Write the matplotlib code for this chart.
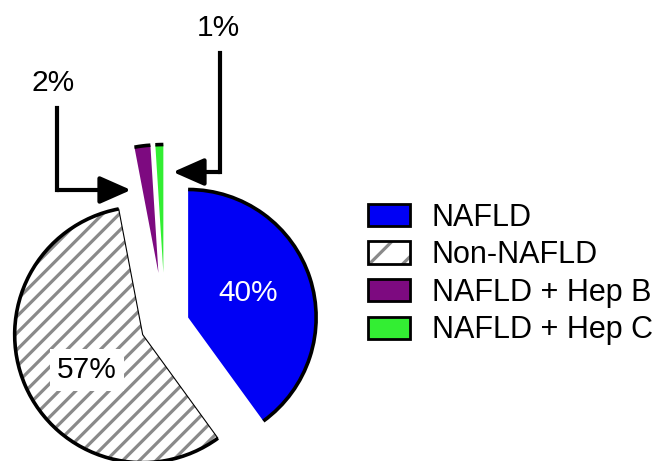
import matplotlib
matplotlib.use("Agg")
import matplotlib.pyplot as plt
from matplotlib.patches import Arc, Patch, Wedge

plt.rcParams['font.family'] = ['Liberation Sans', 'DejaVu Sans']
plt.rcParams['hatch.color'] = '#8a8a8a'
plt.rcParams['hatch.linewidth'] = 2.3

# Patient groups and their share of the cohort (%)
groups = ["NAFLD", "Non-NAFLD", "NAFLD + Hep B", "NAFLD + Hep C"]
shares = [40, 57, 2, 1]
colors = ["#0000f5", "white", "#7d0a80", "#33ee33"]
hatches = ["", "//", "", ""]
explode = [0.19, 0.19, 0.41, 0.41]

# Pie sits at pixel (165, 325) of the 656x461 canvas, radius 128 px
SCALE = 128.0
CX, CY = 165, 325
FS = 21.5


def px(x, y):
    """Canvas pixel -> data units (pie radius = 1)."""
    return (x - CX) / SCALE, (CY - y) / SCALE


fig = plt.figure(figsize=(6.56, 4.61), dpi=100)
ax = fig.add_axes([0, 0, 1, 1])

wedges, _, autotexts = ax.pie(
    shares,
    colors=colors,
    hatch=hatches,
    explode=explode,
    startangle=90,
    counterclock=False,
    radius=1,
    autopct=lambda p: f"{p:.0f}%" if p > 5 else "",
    pctdistance=0.52,
    wedgeprops=dict(linewidth=0),
    textprops=dict(fontsize=FS),
)

# Prism-style outline: heavy black stroke on the outer arcs only
for w in wedges:
    ax.add_patch(Arc(w.center, 2 * w.r, 2 * w.r, theta1=w.theta1, theta2=w.theta2,
                     color="black", lw=2.6, zorder=3))
# thin edge around the hatched slice
w = wedges[1]
ax.add_patch(Wedge(w.center, w.r, w.theta1, w.theta2, facecolor="none",
                   edgecolor="black", lw=0.8, zorder=3))

autotexts[0].set_color("white")
autotexts[0].set_position(px(248, 293))
autotexts[1].set_position(px(87, 370))
autotexts[1].set_bbox(dict(boxstyle="square,pad=0.25", facecolor="white", edgecolor="none"))

# Elbow arrows pointing at the two thin slices
arrow_kw = dict(arrowstyle="-|>,head_length=0.95,head_width=0.42", color="black",
                lw=3, shrinkA=0, shrinkB=0, mutation_scale=20)
line_kw = dict(color="black", lw=3, solid_capstyle="projecting", solid_joinstyle="miter")

ax.text(*px(53, 83), f"{shares[2]}%", fontsize=FS, ha="center", va="center")
ax.plot(*zip(px(57, 108), px(57, 190)), **line_kw)
ax.annotate("", xy=px(131, 190), xytext=px(57, 190), arrowprops=arrow_kw)

ax.text(*px(218, 28), f"{shares[3]}%", fontsize=FS, ha="center", va="center")
ax.plot(*zip(px(220, 53), px(220, 172)), **line_kw)
ax.annotate("", xy=px(173, 172), xytext=px(220, 172), arrowprops=arrow_kw)

# Legend
handles = []
for name, c, h in zip(groups, colors, hatches):
    if h:
        handles.append((Patch(facecolor=c, hatch="/"),
                        Patch(facecolor="none", edgecolor="black", lw=2)))
    else:
        handles.append(Patch(facecolor=c, edgecolor="black", lw=2))
fig.legend(handles, groups, loc="center left", bbox_to_anchor=(368 / 656, 1 - 274 / 461),
           frameon=False, fontsize=22, handlelength=1.37, handleheight=0.75,
           handletextpad=0.72, labelspacing=0.25, borderpad=0, borderaxespad=0)

ax.set_xlim(px(0, 0)[0], px(656, 0)[0])
ax.set_ylim(px(0, 461)[1], px(0, 0)[1])
ax.set_aspect("auto")
ax.axis("off")

fig.savefig("out.png", dpi=100)
